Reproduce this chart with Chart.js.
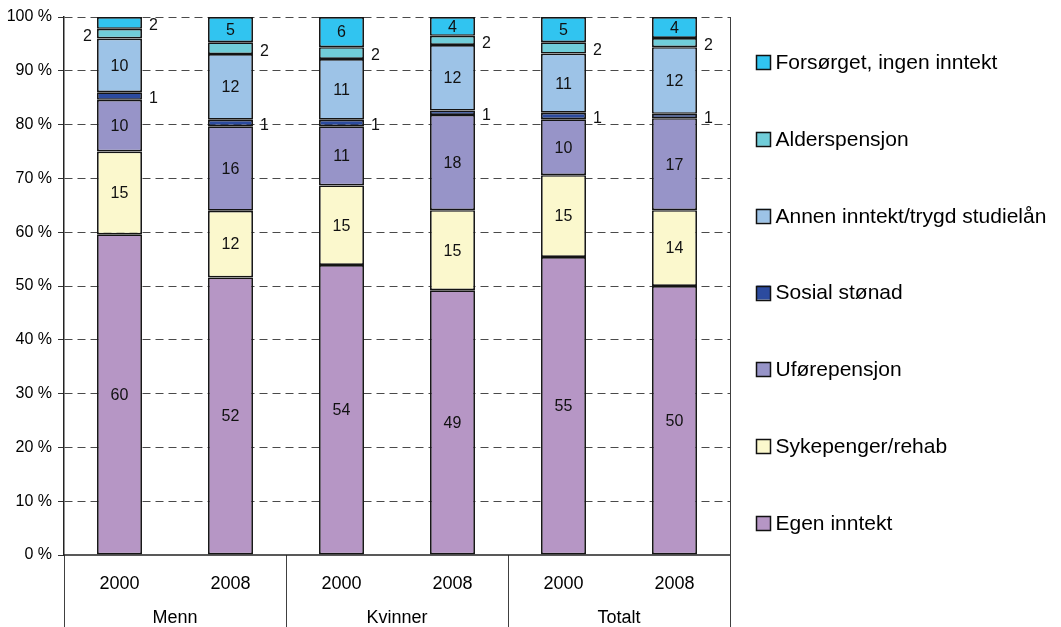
<!DOCTYPE html>
<html>
<head>
<meta charset="utf-8">
<script src="https://cdn.jsdelivr.net/npm/chart.js@4"></script>
<style>
  body { margin: 0; background: #fff; }
  #chart { display: block; }
</style>
</head>
<body>
<canvas id="chart" width="1061" height="627"></canvas>
<script>
const years = ['2000', '2008', '2000', '2008', '2000', '2008']
const groups = ['Menn', 'Kvinner', 'Totalt']
const seriesNames = ['Egen inntekt', 'Sykepenger/rehab', 'Uførepensjon', 'Sosial stønad',
  'Annen inntekt/trygd studielån', 'Alderspensjon', 'Forsørget, ingen inntekt']

// share of each income source, percent
const egenInntekt = [59.6, 51.6, 53.9, 49.2, 55.4, 50.0]
const sykepenger = [15.4, 12.4, 14.8, 14.9, 15.2, 14.1]
const uforepensjon = [9.6, 15.7, 11.0, 17.7, 10.4, 17.1]
const sosialStonad = [1.4, 1.2, 1.2, 0.8, 1.2, 0.8]
const annenInntekt = [10.0, 12.2, 11.3, 12.2, 11.0, 12.4]
const alderspensjon = [1.8, 2.2, 2.2, 1.7, 2.1, 1.7]
const forsorget = [2.2, 4.7, 5.6, 3.5, 4.7, 3.9]

const yTicks = [0, 10, 20, 30, 40, 50, 60, 70, 80, 90, 100]

const colors = ['#b696c5', '#fbf8cd', '#9794c8', '#2c4b9f', '#9dc3e7', '#70cdd9', '#31c4f0']
const series = [egenInntekt, sykepenger, uforepensjon, sosialStonad, annenInntekt, alderspensjon, forsorget]

const font = 'Liberation Sans, Arial, sans-serif'

// numbers on the bars; small parts go beside the bar
const valueLabels = {
  id: 'valueLabels',
  afterDatasetsDraw(chart) {
    const ctx = chart.ctx
    ctx.save()
    ctx.font = '16px ' + font
    ctx.fillStyle = '#111'
    ctx.textBaseline = 'middle'
    const lastRight = {}
    for (let d = chart.data.datasets.length - 1; d >= 0; d--) {
      const meta = chart.getDatasetMeta(d)
      meta.data.forEach((bar, i) => {
        const v = chart.data.datasets[d].data[i]
        const txt = String(Math.round(v))
        const cy = (bar.y + bar.base) / 2
        if (v >= 3) {
          ctx.textAlign = 'center'
          ctx.fillText(txt, bar.x, cy + 1)
          return
        }
        if (lastRight[i] !== undefined && Math.abs(lastRight[i] - cy) < 14) {
          ctx.textAlign = 'right'
          ctx.fillText(txt, bar.x - bar.width / 2 - 5, cy + 3)
        } else {
          ctx.textAlign = 'left'
          ctx.fillText(txt, bar.x + bar.width / 2 + 7, cy + 3)
          lastRight[i] = cy
        }
      })
    }
    ctx.restore()
  }
}

// frame, group separators, group names and legend
const frameAndLegend = {
  id: 'frameAndLegend',
  afterDraw(chart) {
    const ctx = chart.ctx
    const area = chart.chartArea
    const xs = chart.scales.x
    ctx.save()
    ctx.strokeStyle = '#404040'
    ctx.lineWidth = 1
    const seps = [area.left, (xs.getPixelForValue(1) + xs.getPixelForValue(2)) / 2,
      (xs.getPixelForValue(3) + xs.getPixelForValue(4)) / 2, area.right]
    seps.forEach((x, k) => {
      const px = Math.round(x) + 0.5
      ctx.beginPath()
      ctx.moveTo(px, k === seps.length - 1 ? area.top : area.bottom)
      ctx.lineTo(px, chart.height)
      ctx.stroke()
    })
    // solid base line
    ctx.strokeStyle = '#222'
    ctx.lineWidth = 1.5
    ctx.beginPath()
    ctx.moveTo(area.left, Math.round(area.bottom))
    ctx.lineTo(area.right, Math.round(area.bottom))
    ctx.stroke()

    ctx.fillStyle = '#000'
    ctx.font = '18px ' + font
    ctx.textAlign = 'center'
    ctx.textBaseline = 'middle'
    groups.forEach((g, k) => {
      const x = (xs.getPixelForValue(k * 2) + xs.getPixelForValue(k * 2 + 1)) / 2
      ctx.fillText(g, x, area.bottom + 63)
    })

    // legend, last series on top
    const step = (area.bottom - area.top) / seriesNames.length
    ctx.textAlign = 'left'
    ctx.font = '21px ' + font
    for (let k = 0; k < seriesNames.length; k++) {
      const d = seriesNames.length - 1 - k
      const cy = area.top + 45 + k * step
      const bx = area.right + 26.5
      ctx.fillStyle = colors[d]
      ctx.fillRect(bx, cy - 7, 14, 14)
      ctx.strokeStyle = '#111'
      ctx.lineWidth = 1.5
      ctx.strokeRect(bx, Math.round(cy - 7) + 0.5, 14, 14)
      ctx.fillStyle = '#000'
      ctx.fillText(seriesNames[d], bx + 19, cy + 1)
    }
    ctx.restore()
  }
}

const datasets = series.map((values, k) => ({
  label: seriesNames[k],
  data: values,
  backgroundColor: colors[k],
  borderColor: '#141414',
  borderWidth: 1.7,
  borderSkipped: false,
  categoryPercentage: 1,
  barPercentage: 0.405
}))

new Chart(document.getElementById('chart').getContext('2d'), {
  type: 'bar',
  data: { labels: years, datasets: datasets },
  options: {
    responsive: false,
    animation: false,
    devicePixelRatio: 1,
    layout: { padding: { top: 17, right: 331, left: 0, bottom: 0 } },
    plugins: {
      legend: { display: false },
      tooltip: { enabled: false }
    },
    scales: {
      x: {
        stacked: true,
        grid: { display: false, drawTicks: false },
        border: { display: false },
        ticks: { color: '#000', font: { family: font, size: 18 }, padding: 18 },
        afterFit(scale) { scale.height = 72 }
      },
      y: {
        stacked: true,
        min: 0,
        max: 100,
        afterBuildTicks(scale) { scale.ticks = yTicks.map(v => ({ value: v })) },
        grid: {
          color: c => c.tick && c.tick.value === 0 ? 'rgba(0,0,0,0)' : '#4a4a4a',
          lineWidth: 1,
          tickLength: 6,
          tickColor: '#333'
        },
        border: { display: true, color: '#222', width: 1.5, dash: [8, 5] },
        ticks: {
          color: '#000',
          font: { family: font, size: 16 },
          padding: 6,
          callback: v => v + ' %'
        },
        afterFit(scale) { scale.width = 64 }
      }
    }
  },
  plugins: [valueLabels, frameAndLegend]
})
</script>
</body>
</html>
